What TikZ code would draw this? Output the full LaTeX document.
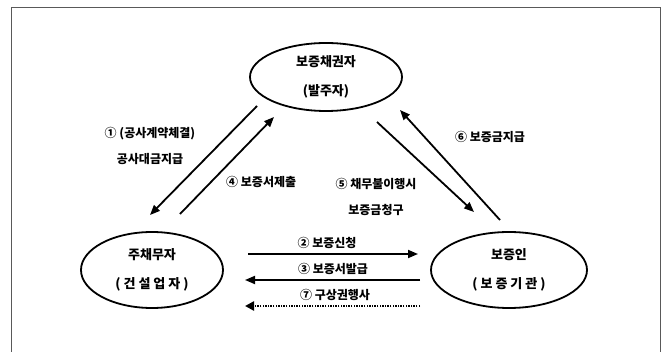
\documentclass[tikz,border=0pt]{standalone}
\usepackage{fontspec}
\setmainfont{Noto Sans CJK KR}
\usetikzlibrary{shapes.geometric,arrows.meta,calc}

\tikzset{
  party/.style={draw, ellipse, line width=1.8pt, inner sep=0pt, align=center,
    font=\bfseries\fontsize{13}{29}\selectfont},
  flow/.style={line width=1.8pt, -{Triangle[length=10pt,width=8pt]}},
  dotflow/.style={line width=2.6pt, dash pattern=on 1.4pt off 1.2pt,
    -{Triangle[length=9pt,width=9pt]}},
  tag/.style={inner sep=0pt, align=center, font=\bfseries\fontsize{12}{26}\selectfont},
  frame/.style={draw=black!65, line width=0.9pt}
}

\begin{document}
\begin{tikzpicture}[x=1pt,y=-1pt]
  \useasboundingbox (0,0) rectangle (669,352);

  % outer frame, open at the bottom
  \draw[frame] (11,352) -- (11,7) -- (660,7) -- (660,352);

  % the three parties
  \node[party, minimum width=152pt, minimum height=68pt] (T) at (326,77)
    {보증채권자\\(발주자)};
  \node[party, minimum width=142pt, minimum height=76pt] (L) at (152,270)
    {주채무자\\( 건 설 업 자 )};
  \node[party, minimum width=156pt, minimum height=76pt] (R) at (509,270)
    {보증인\\( 보 증 기 관 )};

  % obligee <-> principal
  \draw[flow] ($(T.center)+(-69,29)$) -- ($(L.center)+(-2,-55)$);
  \draw[flow] ($(L.center)+(28,-56)$) -- ($(T.center)+(-52,40)$);

  % obligee <-> surety
  \draw[flow] ($(T.center)+(51,45)$) -- ($(R.center)+(-35,-58)$);
  \draw[flow] ($(R.center)+(-9,-50)$) -- ($(T.center)+(74,33)$);

  % principal <-> surety
  \draw[flow] ($(L.center)+(96,-16)$) -- ($(R.center)+(-91,-16)$);
  \draw[flow] ($(R.center)+(-89,10)$) -- ($(L.center)+(93,10)$);
  \draw[dotflow] ($(R.center)+(-89,36)$) -- ($(L.center)+(93,36)$);

  % step labels
  \node[tag] (s1) at (150,146) {① (공사계약체결)\\공사대금지급};
  \node[tag, anchor=west] (s4) at (226,182) {④ 보증서제출};
  \node[tag] (s5) at (376,197) {⑤ 채무불이행시\\보증금청구};
  \node[tag] (s6) at (490,137) {⑥ 보증금지급};
  \node[tag] (s2) at (327,243) {② 보증신청};
  \node[tag] (s3) at (333,269) {③ 보증서발급};
  \node[tag] (s7) at (335,295) {⑦ 구상권행사};
\end{tikzpicture}
\end{document}
